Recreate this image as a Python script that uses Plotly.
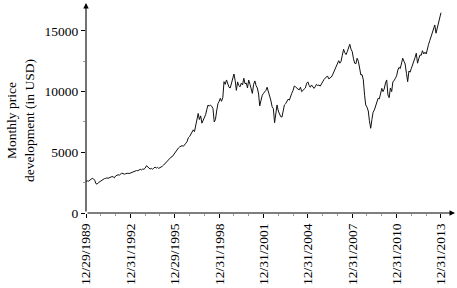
import pandas as pd
import plotly.graph_objects as go

# Monthly price development (USD), Dec 1989 .. Dec 2013
start_value = [2600]
v1990 = [2650, 2620, 2700, 2760, 2850, 2820, 2700, 2420, 2380, 2500, 2580, 2650]
v1991 = [2700, 2800, 2830, 2850, 2900, 2860, 2930, 2960, 3000, 2980, 2900, 3050]
v1992 = [3100, 3150, 3120, 3200, 3280, 3250, 3200, 3230, 3260, 3280, 3250, 3300]
v1993 = [3350, 3380, 3420, 3450, 3500, 3480, 3560, 3600, 3550, 3620, 3600, 3700]
v1994 = [3900, 3800, 3650, 3620, 3680, 3600, 3700, 3780, 3700, 3760, 3680, 3720]
v1995 = [3760, 3850, 3950, 4050, 4200, 4300, 4420, 4450, 4600, 4650, 4800, 4950]
v1996 = [5050, 5200, 5350, 5450, 5500, 5550, 5500, 5600, 5750, 5900, 6200, 6300]
v1997 = [6500, 6600, 6850, 6700, 7200, 7600, 8200, 7700, 8000, 7400, 7600, 7800]
v1998 = [8100, 8500, 8900, 8800, 8900, 8800, 8600, 7500, 7700, 8400, 9000, 9200]
v1999 = [9450, 9200, 9500, 10820, 10600, 10960, 10700, 10360, 10300, 10700, 10900, 11450]
v2000 = [10900, 10100, 10800, 10500, 10400, 10700, 10550, 11100, 10650, 10700, 10300, 10950]
v2001 = [10600, 10100, 9850, 10600, 10880, 10500, 10300, 9800, 8820, 9300, 9700, 9860]
v2002 = [10000, 10100, 10360, 10000, 9800, 9300, 8760, 8600, 7440, 8200, 8900, 8400]
v2003 = [8100, 7940, 7900, 8500, 8900, 9000, 9200, 9370, 9300, 9700, 9860, 10100]
v2004 = [10460, 10400, 10270, 10200, 10150, 10360, 10000, 10080, 10200, 10300, 10690, 10800]
v2005 = [10500, 10360, 10550, 10400, 10270, 10400, 10600, 10500, 10550, 10450, 10690, 10800]
v2006 = [11000, 11100, 11200, 11290, 11050, 11100, 11200, 11370, 11600, 11900, 12060, 12300]
v2007 = [12550, 12340, 12500, 13000, 13490, 13210, 13050, 13300, 13600, 13900, 13500, 13290]
v2008 = [12700, 12340, 12300, 12750, 12500, 11800, 11370, 11400, 10960, 9700, 8900, 8710]
v2009 = [8400, 7600, 6980, 7700, 8300, 8490, 8800, 9200, 9450, 9400, 9900, 10270]
v2010 = [10000, 10200, 10700, 10960, 9720, 9500, 10300, 10000, 10820, 10900, 11100, 11300]
v2011 = [11780, 12000, 11900, 12300, 12750, 12500, 12280, 11500, 10820, 11700, 11600, 11920]
v2012 = [12200, 12400, 12800, 13160, 12340, 12700, 13020, 13000, 13370, 13100, 13250, 13100]
v2013 = [13600, 13900, 14200, 14530, 14900, 15080, 15490, 14810, 15200, 15630, 15900, 16500]

values = (start_value + v1990 + v1991 + v1992 + v1993 + v1994 + v1995 + v1996 + v1997
          + v1998 + v1999 + v2000 + v2001 + v2002 + v2003 + v2004 + v2005 + v2006
          + v2007 + v2008 + v2009 + v2010 + v2011 + v2012 + v2013)

try:
    dates = pd.date_range(start="1989-12-29", periods=len(values), freq="BME")
except ValueError:
    dates = pd.date_range(start="1989-12-29", periods=len(values), freq="BM")

tick_dates = ["1989-12-29", "1992-12-31", "1995-12-29", "1998-12-31", "2001-12-31",
              "2004-12-31", "2007-12-31", "2010-12-31", "2013-12-31"]
tick_labels = ["12/29/1989", "12/31/1992", "12/29/1995", "12/31/1998", "12/31/2001",
               "12/31/2004", "12/31/2007", "12/31/2010", "12/31/2013"]
y_ticks = [0, 5000, 10000, 15000]

FONT = "Liberation Serif"
W, H = 457, 288
ML, MR, MT, MB = 86, 2, 3, 75
PW, PH = W - ML - MR, H - MT - MB

fig = go.Figure()
fig.add_trace(go.Scatter(x=dates, y=values, mode="lines",
                         line=dict(color="#111111", width=1), showlegend=False))

fig.update_layout(
    width=W, height=H,
    margin=dict(l=ML, r=MR, t=MT, b=MB, pad=0),
    paper_bgcolor="white", plot_bgcolor="white",
    font=dict(family=FONT, size=13.5, color="black"),
    xaxis=dict(
        type="date",
        range=["1989-12-29", "2014-12-12"],
        tickvals=tick_dates, ticktext=tick_labels, tickangle=-90,
        ticks="outside", ticklen=4, tickcolor="black", tickwidth=1,
        showgrid=False, zeroline=False, showline=False, automargin=False,
        tickfont=dict(family=FONT, size=13.5),
        minor=dict(dtick="M12", tick0="1989-12-29", ticks="outside", ticklen=2,
                   tickcolor="#999999", showgrid=False),
    ),
    yaxis=dict(
        range=[0, 17300],
        tickvals=y_ticks, ticktext=[str(v) for v in y_ticks],
        ticks="outside", ticklen=4, tickcolor="black", tickwidth=1,
        showgrid=False, zeroline=False, showline=False, automargin=False,
        tickfont=dict(family=FONT, size=13.5),
        minor=dict(dtick=2500, ticks="outside", ticklen=2, tickcolor="#999999",
                   showgrid=False),
    ),
)

# axis lines with arrow heads
fig.add_annotation(x=1, y=0, xref="paper", yref="paper", ax=-PW, ay=0,
                   showarrow=True, arrowhead=2, arrowsize=1, arrowwidth=1.1,
                   arrowcolor="black", text="")
fig.add_annotation(x=0, y=1, xref="paper", yref="paper", ax=0, ay=PH,
                   showarrow=True, arrowhead=2, arrowsize=1, arrowwidth=1.1,
                   arrowcolor="black", text="")

# y-axis title
fig.add_annotation(x=(20 - ML) / PW, y=1 - (121 - MT) / PH, xref="paper", yref="paper",
                   text="Monthly price<br>development (in USD)", showarrow=False,
                   textangle=-90, xanchor="center", yanchor="middle",
                   font=dict(family=FONT, size=13.5, color="black"))

fig.write_html("out.html", config={"displayModeBar": False},
               post_script="document.body.style.margin='0px';document.body.style.overflow='hidden';")
